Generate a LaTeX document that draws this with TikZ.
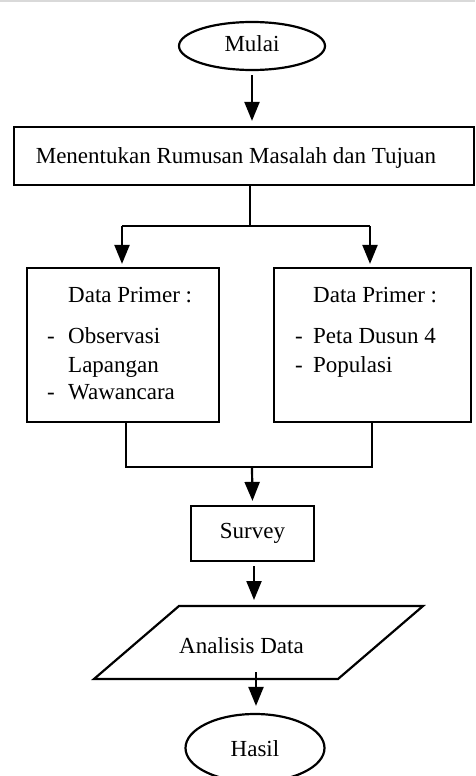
\documentclass[tikz,border=0pt]{standalone}
\usepackage{fontspec}
\setmainfont{Liberation Serif}
\usetikzlibrary{arrows.meta,shapes.geometric}
\begin{document}
\begin{tikzpicture}[x=1pt,y=-1pt,
  ln/.style={line width=2.2pt},
  arr/.style={ln,-{Triangle[length=19pt,width=15pt]}},
  boxnode/.style={draw,ln,rectangle,inner sep=0pt},
  ovalnode/.style={draw,ln,ellipse,inner sep=0pt},
  txt/.style={font=\fontsize{23}{27}\selectfont,inner sep=0pt},
  ltxt/.style={txt,anchor=base west}]
\useasboundingbox (0,0) rectangle (475,776);
\clip (0,0) rectangle (475,776);
\fill[black!15] (0,0) rectangle (475,2.5);
% shapes
\node[ovalnode,minimum width=146pt,minimum height=48pt] (mulai) at (252,46) {};
\node[txt] (mulaitxt) at (252,44) {Mulai};
\node[boxnode,minimum width=460pt,minimum height=58pt] (rum) at (244,156) {};
\node[txt] (rumtxt) at (236,158) {Menentukan Rumusan Masalah dan Tujuan};
\node[boxnode,minimum width=192pt,minimum height=154pt] (l) at (123,345) {};
\node[boxnode,minimum width=197pt,minimum height=154pt] (r) at (372.5,345) {};
\node[ltxt] (l1) at (68,302) {Data Primer :};
\node[ltxt] (l2) at (47,343) {\makebox[21pt][l]{-}Observasi};
\node[ltxt] (l3) at (68,372) {Lapangan};
\node[ltxt] (l4) at (47,399) {\makebox[21pt][l]{-}Wawancara};
\node[ltxt] (r1) at (313,302) {Data Primer :};
\node[ltxt] (r2) at (295,343) {\makebox[18pt][l]{-}Peta Dusun 4};
\node[ltxt] (r3) at (295,372) {\makebox[18pt][l]{-}Populasi};
\node[boxnode,minimum width=123pt,minimum height=55pt] (sur) at (252.5,533.5) {};
\node[txt] (surtxt) at (252.5,533) {Survey};
\draw[ln] (94,679) -- (179,606) -- (423,606) -- (338,679) -- cycle;
\coordinate (anatop) at (254,606);
\coordinate (anabot) at (256,672);
\node[txt] (ana) at (241.5,646) {Analisis Data};
\node[ovalnode,minimum width=139pt,minimum height=68pt] (hasil) at (255,748) {};
\node[txt] (hasiltxt) at (255,749) {Hasil};
% connectors
\draw[arr,shorten <=4pt,shorten >=5pt] (mulai.south) -- (mulai.south |- rum.north);
\draw[ln] (rum.south -| 250,0) -- (250,226) coordinate (j1);
\draw[ln] (j1 -| 122,0) -- (j1 -| 370,0);
\draw[arr,shorten >=3pt] (j1 -| 122,0) -- (122,0 |- l.north);
\draw[arr,shorten >=3pt] (j1 -| 370,0) -- (370,0 |- r.north);
\coordinate (j2) at (252,467);
\draw[ln] (126,0 |- l.south) -- (j2 -| 126,0) -- (j2 -| 372,0) -- (372,0 |- r.south);
\draw[arr,shorten >=4pt] (j2) -- (sur.north);
\draw[arr,shorten <=4pt,shorten >=6pt] (sur.south -| anatop) -- (anatop);
\draw[arr,shorten >=7pt] (anabot) -- (anabot |- hasil.north);
\end{tikzpicture}
\end{document}
